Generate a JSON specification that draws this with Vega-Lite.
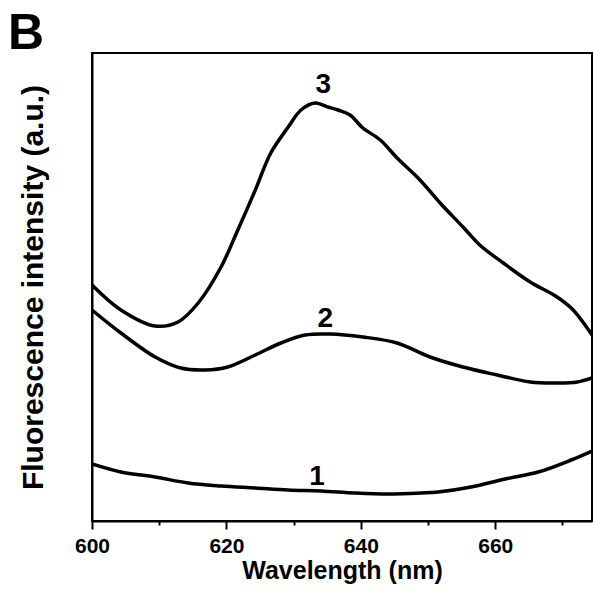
{
  "$schema": "https://vega.github.io/schema/vega-lite/v6.json",
  "width": 500,
  "height": 468,
  "autosize": "none",
  "padding": {"left": 92, "top": 53, "right": 1, "bottom": 80},
  "background": "white",
  "config": {
    "view": {"stroke": "black", "strokeWidth": 2},
    "font": "Liberation Sans"
  },
  "title": {
    "text": "B",
    "anchor": "start",
    "frame": "group",
    "dx": -84,
    "dy": 46,
    "offset": 0,
    "baseline": "alphabetic",
    "fontSize": 50,
    "fontWeight": "bold",
    "font": "Liberation Sans",
    "color": "black"
  },
  "datasets": {
    "curves": [
      {"curve": "3", "wl": 600.0, "v": 236},
      {"curve": "3", "wl": 604.3, "v": 211},
      {"curve": "3", "wl": 609.4, "v": 195},
      {"curve": "3", "wl": 612.8, "v": 199},
      {"curve": "3", "wl": 615.8, "v": 218},
      {"curve": "3", "wl": 619.2, "v": 254},
      {"curve": "3", "wl": 621.7, "v": 291},
      {"curve": "3", "wl": 624.3, "v": 331},
      {"curve": "3", "wl": 626.6, "v": 368},
      {"curve": "3", "wl": 629.2, "v": 394},
      {"curve": "3", "wl": 631.1, "v": 411},
      {"curve": "3", "wl": 633.2, "v": 418},
      {"curve": "3", "wl": 635.1, "v": 414},
      {"curve": "3", "wl": 636.6, "v": 411},
      {"curve": "3", "wl": 638.4, "v": 406},
      {"curve": "3", "wl": 640.3, "v": 393},
      {"curve": "3", "wl": 642.9, "v": 381},
      {"curve": "3", "wl": 645.4, "v": 363},
      {"curve": "3", "wl": 648.8, "v": 341},
      {"curve": "3", "wl": 651.8, "v": 318},
      {"curve": "3", "wl": 655.2, "v": 294},
      {"curve": "3", "wl": 657.7, "v": 276},
      {"curve": "3", "wl": 661.2, "v": 258},
      {"curve": "3", "wl": 665.2, "v": 239},
      {"curve": "3", "wl": 669.2, "v": 224},
      {"curve": "3", "wl": 671.6, "v": 211},
      {"curve": "3", "wl": 674.4, "v": 186},
      {"curve": "2", "wl": 600.0, "v": 211},
      {"curve": "2", "wl": 604.3, "v": 188},
      {"curve": "2", "wl": 609.4, "v": 164},
      {"curve": "2", "wl": 613.2, "v": 153},
      {"curve": "2", "wl": 616.8, "v": 151},
      {"curve": "2", "wl": 620.2, "v": 154},
      {"curve": "2", "wl": 624.3, "v": 166},
      {"curve": "2", "wl": 628.1, "v": 178},
      {"curve": "2", "wl": 631.7, "v": 186},
      {"curve": "2", "wl": 635.4, "v": 187},
      {"curve": "2", "wl": 640.3, "v": 184},
      {"curve": "2", "wl": 645.4, "v": 178},
      {"curve": "2", "wl": 650.3, "v": 164},
      {"curve": "2", "wl": 655.2, "v": 154},
      {"curve": "2", "wl": 660.3, "v": 146},
      {"curve": "2", "wl": 665.2, "v": 139},
      {"curve": "2", "wl": 669.2, "v": 138},
      {"curve": "2", "wl": 672.2, "v": 139},
      {"curve": "2", "wl": 674.4, "v": 143},
      {"curve": "1", "wl": 600.0, "v": 57},
      {"curve": "1", "wl": 604.3, "v": 49},
      {"curve": "1", "wl": 609.4, "v": 44},
      {"curve": "1", "wl": 614.3, "v": 38},
      {"curve": "1", "wl": 619.2, "v": 35},
      {"curve": "1", "wl": 624.3, "v": 33},
      {"curve": "1", "wl": 629.2, "v": 31},
      {"curve": "1", "wl": 634.1, "v": 30},
      {"curve": "1", "wl": 639.1, "v": 28},
      {"curve": "1", "wl": 644.0, "v": 27},
      {"curve": "1", "wl": 649.0, "v": 28},
      {"curve": "1", "wl": 651.5, "v": 29},
      {"curve": "1", "wl": 656.4, "v": 34},
      {"curve": "1", "wl": 661.5, "v": 42},
      {"curve": "1", "wl": 666.4, "v": 49},
      {"curve": "1", "wl": 671.3, "v": 61},
      {"curve": "1", "wl": 674.4, "v": 70}
    ],
    "labels": [
      {"label": "3", "wl": 634.4, "v": 436},
      {"label": "2", "wl": 634.7, "v": 202},
      {"label": "1", "wl": 633.5, "v": 44}
    ]
  },
  "layer": [
    {
      "data": {"name": "curves"},
      "mark": {"type": "line", "interpolate": "catmull-rom", "color": "black", "strokeWidth": 3.5, "clip": true},
      "encoding": {
        "x": {
          "field": "wl",
          "type": "quantitative",
          "scale": {"domain": [600, 674.4], "nice": false, "zero": false},
          "axis": {
            "title": "Wavelength (nm)",
            "values": [600, 610, 620, 630, 640, 650, 660, 670],
            "labelExpr": "datum.value % 20 === 0 ? datum.label : ''",
            "tickSize": {"condition": {"test": "datum.value % 20 === 0", "value": 8}, "value": 4},
            "tickWidth": 2,
            "tickColor": "black",
            "domainColor": "black",
            "domainWidth": 2,
            "grid": false,
            "labelFont": "Liberation Sans",
            "labelFontSize": 21,
            "labelFontWeight": "bold",
            "labelColor": "black",
            "labelPadding": 6,
            "labelFlush": false,
            "labelOverlap": false,
            "titleFont": "Liberation Sans",
            "titleFontSize": 25,
            "titleFontWeight": "bold",
            "titleColor": "black",
            "titlePadding": 2
          }
        },
        "y": {
          "field": "v",
          "type": "quantitative",
          "scale": {"domain": [0, 468], "nice": false},
          "axis": {
            "title": "Fluorescence intensity (a.u.)",
            "ticks": false,
            "labels": false,
            "grid": false,
            "domainColor": "black",
            "domainWidth": 2,
            "titleFont": "Liberation Sans",
            "titleFontSize": 30,
            "titleFontWeight": "bold",
            "titleColor": "black",
            "titlePadding": 44
          }
        },
        "detail": {"field": "curve"}
      }
    },
    {
      "data": {"name": "labels"},
      "mark": {"type": "text", "font": "Liberation Sans", "fontSize": 28, "fontWeight": "bold", "color": "black", "baseline": "middle", "align": "center"},
      "encoding": {
        "x": {"field": "wl", "type": "quantitative"},
        "y": {"field": "v", "type": "quantitative"},
        "text": {"field": "label"}
      }
    }
  ]
}
